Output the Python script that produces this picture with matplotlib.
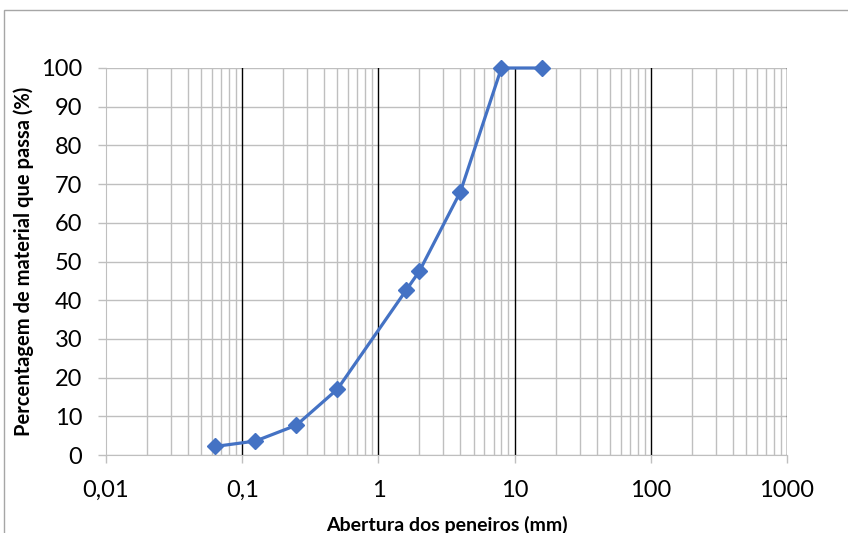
import matplotlib
matplotlib.use("Agg")
import matplotlib.pyplot as plt
from matplotlib.patches import Rectangle
from matplotlib.ticker import FixedLocator, LogLocator, NullFormatter

abertura = [0.063, 0.125, 0.25, 0.5, 1.6, 2.0, 4.0, 8.0, 16.0]
passa = [2.2, 3.6, 7.7, 17.0, 42.6, 47.5, 68.0, 100.0, 100.0]
x_ticks = [0.01, 0.1, 1, 10, 100, 1000]
x_labels = ["0,01", "0,1", "1", "10", "100", "1000"]
y_ticks = list(range(0, 101, 10))

plt.rcParams['font.family'] = ['Lato', 'DejaVu Sans']

fig = plt.figure(figsize=(8.48, 5.33), dpi=100)
ax = fig.add_axes([106/848, 78/533, 681/848, 387/533])

# outer chart-area border
fig.patches.append(Rectangle((4/848, -0.1), 2, (523/533) + 0.1, transform=fig.transFigure,
                             fill=False, edgecolor="#a6a6a6", linewidth=1.0))

ax.set_xscale("log")
ax.set_xlim(0.01, 1000)
ax.set_ylim(0, 100)

grid_gray = "#bfbfbf"
ax.xaxis.set_major_locator(FixedLocator(x_ticks))
ax.set_xticks(x_ticks)
ax.set_xticklabels(x_labels)
ax.xaxis.set_minor_locator(LogLocator(base=10, subs=range(2, 10)))
ax.xaxis.set_minor_formatter(NullFormatter())
ax.set_yticks(y_ticks)

ax.grid(True, which="minor", axis="x", color=grid_gray, linewidth=1.0)
ax.grid(True, which="major", axis="y", color=grid_gray, linewidth=1.0)
for xv in x_ticks[1:]:
    ax.axvline(xv, color="black", linewidth=1.0, zorder=1)
ax.set_axisbelow(True)

for s in ["top", "right"]:
    ax.spines[s].set_visible(False)
ax.spines["left"].set_color(grid_gray)
ax.spines["bottom"].set_color(grid_gray)
ax.tick_params(axis="both", which="major", color=grid_gray, length=6, width=1.0,
               labelsize=17, labelcolor="black")
ax.tick_params(axis="x", which="minor", length=0)
ax.tick_params(axis="x", pad=12)
ax.tick_params(axis="y", pad=11)

ax.plot(abertura, passa, color="#4472C4", linewidth=2.3, marker="D", markersize=8,
        zorder=5, clip_on=False)

ax.set_xlabel("Abertura dos peneiros (mm)", fontsize=14, fontweight="bold", va="center")
ax.set_ylabel("Percentagem de material que passa (%)", fontsize=14.5, fontweight="bold", va="center")
ax.xaxis.set_label_coords(0.5, (455 - 525) / 387)
ax.yaxis.set_label_coords((24 - 106) / 681, 0.5)

fig.savefig("out.png", dpi=100)
